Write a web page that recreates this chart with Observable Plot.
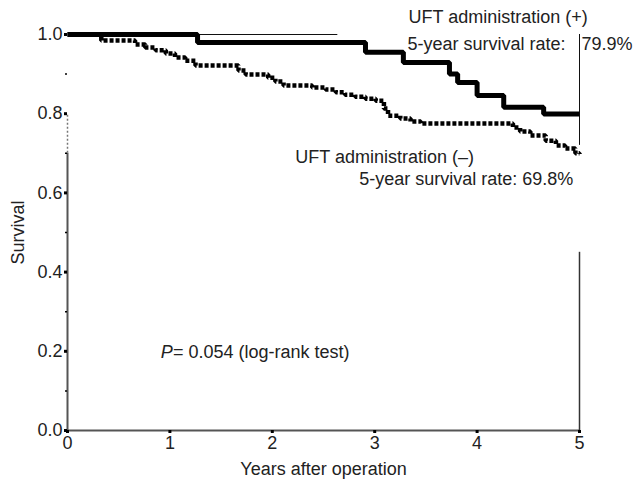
<!DOCTYPE html>
<html><head><meta charset="utf-8">
<script src="https://cdn.jsdelivr.net/npm/d3@7"></script>
<script src="https://cdn.jsdelivr.net/npm/@observablehq/plot@0.6"></script>
<style>body{margin:0;background:#fff;}</style>
</head><body><div id="chart"></div>
<script>
// UFT administration (+)
const plusTime = [0, 1.27, 2.91, 3.28, 3.73, 3.81, 4.0, 4.26, 4.65, 5.0];
const plusSurv = [1.0, 0.98, 0.955, 0.929, 0.90, 0.879, 0.846, 0.816, 0.799, 0.799];
// UFT administration (-)
const minusTime = [0, 0.33, 0.66, 0.76, 0.86, 0.96, 1.05, 1.15, 1.25, 1.67, 1.74, 1.96, 2.03, 2.11, 2.39, 2.52, 2.62, 2.71, 2.81, 2.91, 3.01, 3.09, 3.13, 3.25, 3.35, 3.45, 4.35, 4.42, 4.52, 4.67, 4.77, 4.86, 4.96, 5.0];
const minusSurv = [1.0, 0.985, 0.975, 0.967, 0.96, 0.952, 0.942, 0.934, 0.922, 0.909, 0.899, 0.891, 0.881, 0.871, 0.866, 0.861, 0.854, 0.848, 0.843, 0.838, 0.833, 0.813, 0.795, 0.788, 0.78, 0.775, 0.765, 0.755, 0.745, 0.732, 0.72, 0.712, 0.70, 0.698];
const yTicks = [0, 0.2, 0.4, 0.6, 0.8, 1.0];
const yMinor = [0.1, 0.3, 0.5, 0.7, 0.9];
const xTicks = [0, 1, 2, 3, 4, 5];
const annoText = ["UFT administration (+)", "5-year survival rate:", "79.9%", "UFT administration (\u2013)", "5-year survival rate: 69.8%"];
const annoX = [3.33, 3.32, 5.02, 3.97, 4.94];
const annoY = [1.043, 0.975, 0.975, 0.689, 0.634];
const annoAnchor = ["start", "start", "start", "end", "end"];
const pLabel = ["P", "= 0.054 (log-rank test)"];
const pX = [0.91, 1.03];
const pY = 0.197;

const plus = plusTime.map((t, i) => ({t, s: plusSurv[i]}));
const minus = minusTime.map((t, i) => ({t, s: minusSurv[i]}));
const anno = annoText.map((text, i) => ({text, x: annoX[i], y: annoY[i], anchor: annoAnchor[i]}));

const chart = Plot.plot({
  width: 633, height: 480,
  marginLeft: 67, marginRight: 54, marginTop: 34, marginBottom: 50,
  x: {domain: [0, 5]},
  y: {domain: [0, 1]},
  style: {fontFamily: "'Liberation Sans', Arial, sans-serif", fontSize: "18px", color: "#222", background: "#fff", overflow: "visible"},
  marks: [
    // frame pieces
    Plot.ruleX([0], {y1: 0, y2: 0.7, stroke: "#555", strokeWidth: 2}),
    Plot.ruleX([0], {y1: 0.7, y2: 0.8, stroke: "#777", strokeWidth: 1.5, strokeDasharray: "2,2"}),
    Plot.ruleY([0], {x1: 0, x2: 5, stroke: "#555", strokeWidth: 2}),
    Plot.ruleX([5], {y1: 0, y2: 0.45, stroke: "#333", strokeWidth: 1.5}),
    Plot.ruleX([5], {y1: 0.72, y2: 1.0, stroke: "#111", strokeWidth: 1}),
    Plot.ruleY([1], {x1: 1.27, x2: 2.64, stroke: "#111", strokeWidth: 1}),
    // axes
    Plot.axisY(yTicks, {tickSize: 3, strokeWidth: 3, stroke: "#000", tickPadding: 2, tickFormat: d3.format(".1f"), fontSize: 18, label: "Survival", labelAnchor: "center", labelArrow: false, labelOffset: 56}),
    Plot.axisY(yMinor, {tickSize: 2, strokeWidth: 1.5, stroke: "#000", tickFormat: () => "", label: null}),
    Plot.axisX(xTicks, {tickSize: 3, strokeWidth: 3, stroke: "#000", tickPadding: 3, fontSize: 18, label: "Years after operation", labelAnchor: "center", labelArrow: false, labelOffset: 44}),
    // curves
    Plot.line(minus, {x: "t", y: "s", curve: "step-after", stroke: "#000", strokeWidth: 4.5, strokeDasharray: "4,2", strokeLinecap: "butt", strokeLinejoin: "miter"}),
    Plot.line(plus, {x: "t", y: "s", curve: "step-after", stroke: "#000", strokeWidth: 5, strokeLinecap: "butt", strokeLinejoin: "miter"}),
    // annotations
    Plot.text(anno.filter(d => d.anchor === "start"), {x: "x", y: "y", text: "text", textAnchor: "start", fontSize: 18, fill: "#222"}),
    Plot.text(anno.filter(d => d.anchor === "end"), {x: "x", y: "y", text: "text", textAnchor: "end", fontSize: 18, fill: "#222"}),
    Plot.text([pLabel[0]], {x: pX[0], y: pY, text: d => d, textAnchor: "start", fontSize: 18, fontStyle: "italic", fill: "#222"}),
    Plot.text([pLabel[1]], {x: pX[1], y: pY, text: d => d, textAnchor: "start", fontSize: 18, fill: "#222"})
  ]
});
document.getElementById("chart").appendChild(chart);
</script>
</body></html>
